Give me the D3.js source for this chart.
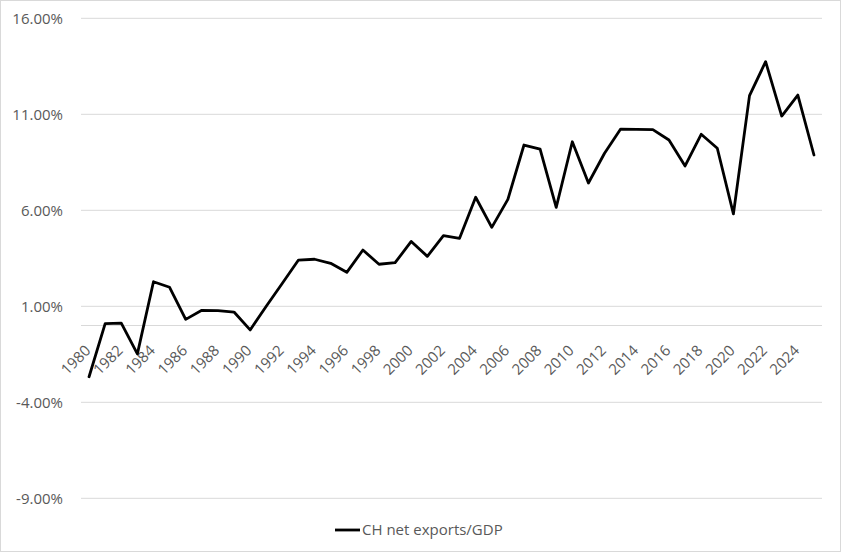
<!DOCTYPE html>
<html><head><meta charset="utf-8">
<script src="https://cdn.jsdelivr.net/npm/d3@7"></script>
<style>body{margin:0;background:#fff}svg{display:block}</style>
</head><body>
<script>
const years = d3.range(1980, 2026);
const values = [-2.67, 0.1, 0.12, -1.48, 2.28, 1.99, 0.32, 0.79, 0.77, 0.70,
  -0.23, 1.0, 2.2, 3.41, 3.45, 3.24, 2.77, 3.93, 3.19, 3.27,
  4.38, 3.6, 4.68, 4.54, 6.68, 5.11, 6.57, 9.4, 9.19, 6.15,
  9.57, 7.42, 8.97, 10.23, 10.22, 10.2, 9.66, 8.31, 9.96, 9.23,
  5.81, 11.97, 13.74, 10.91, 12.0, 8.88];
const yTicks = [-9, -4, 1, 6, 11, 16];
const seriesName = "CH net exports/GDP";

const W = 841, H = 552;
const font = "'Open Sans', sans-serif";
const svg = d3.select("body").append("svg").attr("width", W).attr("height", H);
svg.append("rect").attr("x", 0.5).attr("y", 0.5).attr("width", W - 1).attr("height", H - 1)
  .attr("fill", "#fff").attr("stroke", "#d9d9d9");

const x = d3.scaleBand().domain(years).range([81, 822]);
const y = d3.scaleLinear().domain([-9, 16]).range([498.3, 18.3]);

svg.append("g").selectAll("line").data(yTicks).join("line")
  .attr("x1", 81).attr("x2", 822)
  .attr("y1", d => y(d)).attr("y2", d => y(d))
  .attr("stroke", "#d9d9d9").attr("stroke-width", 1);

svg.append("g").selectAll("text").data(yTicks).join("text")
  .attr("x", 63).attr("y", d => y(d)).attr("dy", "0.35em")
  .attr("text-anchor", "end").attr("font-family", font).attr("font-size", 15)
  .attr("fill", "#595959").text(d => d.toFixed(2) + "%");

svg.append("line").attr("x1", 81).attr("x2", 822).attr("y1", y(0)).attr("y2", y(0))
  .attr("stroke", "#d9d9d9").attr("stroke-width", 1);

svg.append("g").selectAll("text").data(years.filter(d => d % 2 === 0)).join("text")
  .attr("transform", d => `translate(${x(d) + x.bandwidth() / 2 + 2.5},${y(0) + 26}) rotate(-45)`)
  .attr("text-anchor", "end")
  .attr("font-family", font).attr("font-size", 15).attr("fill", "#595959")
  .text(d => String(d));

const line = d3.line().x((d, i) => x(years[i]) + x.bandwidth() / 2).y(d => y(d));
svg.append("path").datum(values).attr("d", line)
  .attr("fill", "none").attr("stroke", "#000").attr("stroke-width", 2.8)
  .attr("stroke-linejoin", "round").attr("stroke-linecap", "round");

const lg = svg.append("g");
lg.append("line").attr("x1", 335).attr("x2", 360).attr("y1", 530).attr("y2", 530)
  .attr("stroke", "#000").attr("stroke-width", 2.8);
lg.append("text").attr("x", 362).attr("y", 530).attr("dy", "0.35em")
  .attr("font-family", font).attr("font-size", 15).attr("fill", "#595959").text(seriesName);
</script>
</body></html>
